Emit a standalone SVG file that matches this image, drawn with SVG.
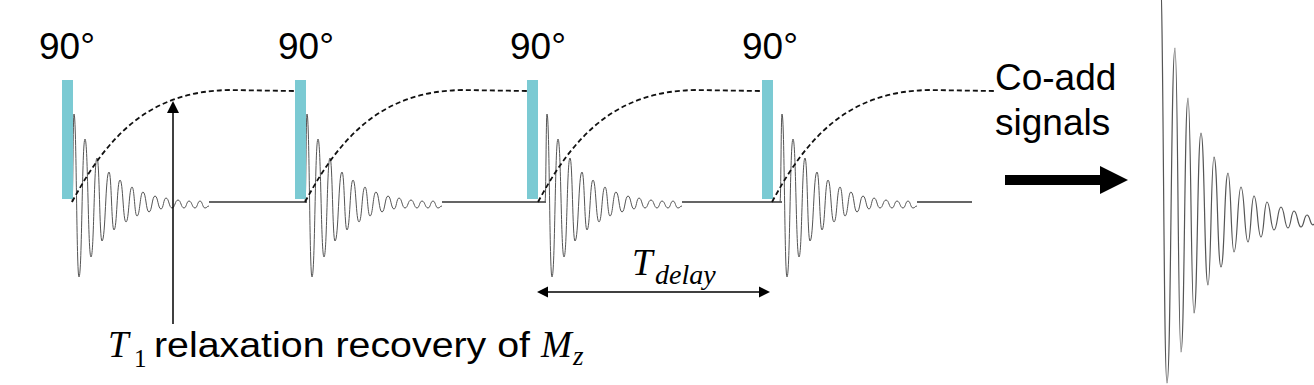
<svg xmlns="http://www.w3.org/2000/svg" xmlns:xlink="http://www.w3.org/1999/xlink" width="1314" height="385" viewBox="0 0 1314 385">
<style>
.pulse{fill:#7BCAD3}
.lbl{font-family:"Liberation Sans",Arial,sans-serif;font-size:37px;fill:#000}
.math{font-family:"Liberation Serif","DejaVu Serif",serif;font-style:italic;fill:#000}
.sub{font-family:"Liberation Serif","DejaVu Serif",serif;fill:#000}
.fid{fill:none;stroke:#555;stroke-width:1}
.bigfid{fill:none;stroke:#555;stroke-width:1.2}
.base{stroke:#333;stroke-width:1.5;fill:none}
.rec{fill:none;stroke:#111;stroke-width:1.8;stroke-dasharray:5 3}
.conn{stroke:#000;stroke-width:1.5;fill:none}
</style>
<defs>
<path id="fidShape" class="fid" d="M72,202 C73,202 73,114 74,114 C76.5,114 76.5,277 79,277 C82,277 82,139 85,139 C88,139 88,257 91,257 C94,257 94,158 97,158 C99.5,158 99.5,241 102,241 C105.5,241 105.5,172 109,172 C111.5,172 111.5,230 114,230 C117,230 117,180 120,180 C123,180 123,222 126,222 C129,222 129,187 132,187 C134.5,187 134.5,216 137,216 C140,216 140,192 143,192 C146,192 146,212 149,212 C152,212 152,196 155,196 C158,196 158,209 161,209 C163.5,209 163.5,198 166,198 C169,198 169,208 172,208 C175,208 175,200 178,200 C181,200 181,208 184,208 C186.5,208 186.5,201 189,201 C192,201 192,208 195,208 C197.5,208 197.5,201 200,201 C202.5,201 202.5,208 205,208 C207,208 207,206 209,206"/>
<path id="recShape" class="rec" d="M72,202 C108,135 150,91 230,90 L295,91"/>
</defs>

<g id="baseline">
<path class="base" d="M209,202 H307 M442,202 H546 M682,202 H782 M917,202 H972"/>
</g>

<g id="fid1"><use xlink:href="#fidShape"/></g>
<g id="fid2"><use xlink:href="#fidShape" transform="translate(233,0)"/></g>
<g id="fid3"><use xlink:href="#fidShape" transform="translate(473,0)"/></g>
<g id="fid4"><use xlink:href="#fidShape" transform="translate(708,0)"/></g>

<g id="pulse1"><rect class="pulse" x="62" y="80" width="11" height="119"/><text class="lbl" x="39" y="59">90°</text></g>
<g id="pulse2"><rect class="pulse" x="295" y="80" width="11" height="119"/><text class="lbl" x="278" y="59">90°</text></g>
<g id="pulse3"><rect class="pulse" x="527" y="80" width="11" height="119"/><text class="lbl" x="510" y="59">90°</text></g>
<g id="pulse4"><rect class="pulse" x="762" y="80" width="11" height="119"/><text class="lbl" x="742" y="59">90°</text></g>

<g id="recovery">
<use xlink:href="#recShape"/>
<use xlink:href="#recShape" transform="translate(233,0)"/>
<use xlink:href="#recShape" transform="translate(466,0)"/>
<path class="rec" d="M772,202 C808,135 850,91 930,90 L995,91"/>
</g>

<g id="summed-fid">
<path class="bigfid" d="M1160,-30 C1163.5,-30 1163.5,383 1167,383 C1171,383 1171,48 1175,48 C1178,48 1178,352 1181,352 C1184.5,352 1184.5,98 1188,98 C1191,98 1191,313 1194,313 C1197.5,313 1197.5,133 1201,133 C1204.5,133 1204.5,285 1208,285 C1211,285 1211,157 1214,157 C1217.5,157 1217.5,267 1221,267 C1224.5,267 1224.5,173 1228,173 C1231,173 1231,252 1234,252 C1237.5,252 1237.5,187 1241,187 C1244.5,187 1244.5,242 1248,242 C1251,242 1251,196 1254,196 C1257.5,196 1257.5,237 1261,237 C1264,237 1264,202 1267,202 C1270.5,202 1270.5,230 1274,230 C1277.5,230 1277.5,207 1281,207 C1284.5,207 1284.5,228 1288,228 C1291,228 1291,211 1294,211 C1297.5,211 1297.5,227 1301,227 C1304,227 1304,215 1307,215 C1310,215 1310,225 1313,225 L1316,223"/>
</g>

<g id="connectors">
<line class="conn" x1="173" y1="324" x2="173" y2="112"/>
<polygon points="167,113 173,101 179,113" fill="#000"/>
<line class="conn" x1="546" y1="292" x2="761" y2="292"/>
<polygon points="537,292 548,286.5 548,297.5" fill="#000"/>
<polygon points="770,292 759,286.5 759,297.5" fill="#000"/>
<line x1="1005" y1="180" x2="1101" y2="180" stroke="#000" stroke-width="10"/>
<polygon points="1100,166 1128,180 1100,194" fill="#000"/>
</g>

<g id="label-t1">
<text class="math" x="108" y="357" font-size="37">T</text>
<text class="sub" x="134" y="367" font-size="25">1</text>
<text class="lbl" x="154" y="357" font-size="35" style="font-size:35px" textLength="376" lengthAdjust="spacingAndGlyphs">relaxation recovery of</text>
<text class="math" x="541" y="357" font-size="37">M</text>
<text class="math" x="573" y="365" font-size="27">z</text>
</g>

<g id="label-tdelay">
<text class="math" x="632" y="275" font-size="37">T</text>
<text class="math" x="655" y="284" font-size="28">delay</text>
</g>

<g id="label-coadd">
<text class="lbl" x="995" y="90">Co-add</text>
<text class="lbl" x="995" y="135">signals</text>
</g>
</svg>
